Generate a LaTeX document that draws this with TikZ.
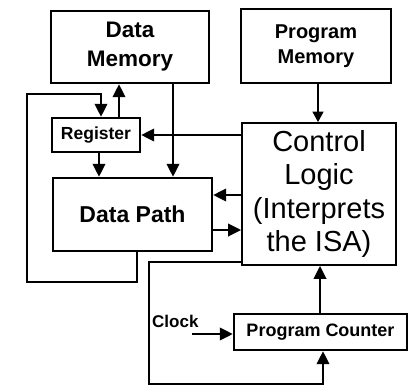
\documentclass[tikz,border=0pt]{standalone}
\usepackage{fontspec}
\setmainfont{Liberation Sans}
\usetikzlibrary{arrows.meta}
\begin{document}
\begin{tikzpicture}[x=1pt,y=-1pt,
  box/.style={draw, line width=2.4pt, inner sep=0pt, align=center},
  wire/.style={line width=2.3pt},
  arr/.style={line width=2.3pt, -{Triangle[length=13pt,width=12.5pt]}},
  thinarr/.style={line width=1.4pt, -{Triangle[length=10.5pt,width=11pt]}}]
\useasboundingbox (0,0) rectangle (419,386);

% blocks
\node[box, minimum width=158, minimum height=72,
      font=\fontsize{22.5}{29}\selectfont\bfseries] (dm) at (130,47) {Data\\Memory};
\node[box, minimum width=150, minimum height=74,
      font=\fontsize{20}{25}\selectfont\bfseries] (pm) at (316,46) {Program\\Memory};
\node[box, line width=1.8pt, minimum width=154, minimum height=142,
      font=\fontsize{29}{33.5}\selectfont] (cl) at (319,194)
      {Control\\Logic\\(Interprets\\the ISA)};
\node[box, minimum width=88, minimum height=34,
      font=\fontsize{17.5}{21}\selectfont\bfseries] (reg) at (96,135) {Register};
\node[box, minimum width=159, minimum height=73,
      font=\fontsize{23}{28}\selectfont\bfseries] (dp) at (132.5,214.5) {Data Path};
\node[box, minimum width=173, minimum height=36,
      font=\fontsize{18}{22}\selectfont\bfseries] (pc) at (320.5,332) {Program Counter};
\node[inner sep=0pt, anchor=west, font=\fontsize{17}{20}\selectfont\bfseries]
      (clk) at (152,321) {Clock};
\coordinate (clkin) at (192,334);

% data side
\draw[arr] (reg.north -| 119,0) -- (dm.south -| 119,0);
\draw[arr] (dm.south -| 173,0) -- (dp.north -| 173,0);
\draw[arr] (reg.south -| 99,0) -- (dp.north -| 99,0);
\draw[arr] (dp.south -| 137,0) -- (137,282) -- (27,282) -- (27,94) -- (101,94)
           -- (reg.north -| 101,0);

% control side
\draw[arr] (cl.west |- reg.east) -- (reg.east);
\draw[arr] (cl.west |- 0,195) -- (dp.east |- 0,195);
\draw[arr] (dp.east |- 0,230) -- (cl.west |- 0,230);
\draw[thinarr] (pm.south -| 318,0) -- (cl.north -| 318,0);
\draw[arr] (pc.north -| 320,0) -- (cl.south -| 320,0);
\draw[arr] (clkin) -- (clkin -| pc.west);
\draw[arr] (cl.west |- 0,262) -- (149,262) -- (149,384) -- (323,384)
           -- (pc.south -| 323,0);
\end{tikzpicture}
\end{document}
